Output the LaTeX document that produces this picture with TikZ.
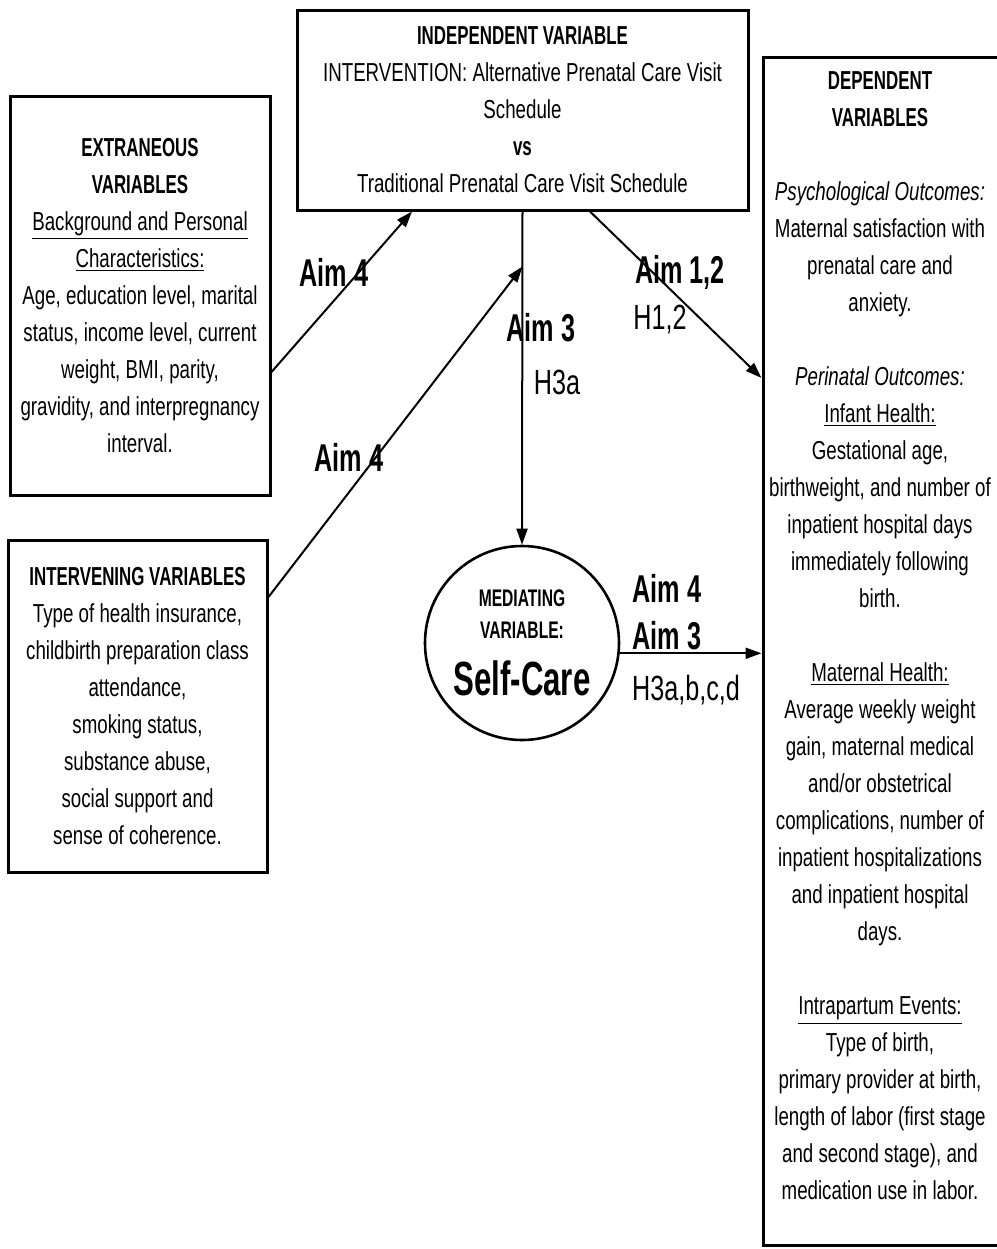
\documentclass[tikz,border=0pt]{standalone}
\usepackage{fontspec}
\setmainfont{Liberation Sans}[FakeStretch=0.72,BoldFeatures={FakeStretch=0.65}]
\usetikzlibrary{arrows.meta,calc}

\begin{document}
\begin{tikzpicture}[x=0.5pt,y=-0.5pt,
 box/.style={
      rectangle,
      draw=black,
      line width=1.5pt,
      align=center,
      inner sep=0pt,
      font=\fontsize{13}{18.5}\selectfont
   },
   txt/.style={
    align = center,
    inner sep = 0pt,
    font = \fontsize{13}{18.5}\selectfont
   },
   aim/.style={inner sep=0pt, font=\bfseries\fontsize{19.4}{22}\selectfont},
   hyp/.style={inner sep=0pt, font=\fontsize{17.5}{21}\selectfont},
   arr/.style={line width=1pt, -{Triangle[length=8pt,width=5.5pt]}}
 ]
 \useasboundingbox (0,0) rectangle (997,1249);

 %independent variable
 \node[box, minimum width=225.5pt, minimum height=100pt] (indep) at (522.5,110)
 {\textbf{INDEPENDENT VARIABLE}\\INTERVENTION: Alternative Prenatal Care Visit\\Schedule\\\textbf{vs}\\Traditional Prenatal Care Visit Schedule};

 %extraneous variables
 \node[box, minimum width=130pt, minimum height=199.5pt] (extr) at (140,295.5)
 {\textbf{EXTRANEOUS}\\\textbf{VARIABLES}\\\underline{Background and Personal}\\\underline{Characteristics:}\\Age, education level, marital\\status, income level, current\\weight, BMI, parity,\\gravidity, and interpregnancy\\interval.};

 %intervening variables
 \node[box, minimum width=129.5pt, minimum height=166pt] (interv) at (137.5,706)
 {\textbf{INTERVENING VARIABLES}\\Type of health insurance,\\childbirth preparation class\\attendance,\\smoking status,\\substance abuse,\\social support and\\sense of coherence.};

 %mediating variable
 \node[circle, draw=black, line width=1.3pt, minimum size=97pt, inner sep=0pt, align=center,
  font=\bfseries\fontsize{12}{16}\selectfont] (med) at (522,643)
 {MEDIATING\\VARIABLE:\\[10pt]{\fontsize{24}{26}\selectfont Self-Care}};

 %dependent variables
 \node[box, minimum width=123.5pt, minimum height=594pt] (depbox) at (886.5,651) {};
 \node[txt] (deptext) at (880,636)
 {\textbf{DEPENDENT}\\\textbf{VARIABLES}\\[18.5pt]
 \textit{Psychological Outcomes:}\\Maternal satisfaction with\\prenatal care and\\anxiety.\\[18.5pt]
 \textit{Perinatal Outcomes:}\\\underline{Infant Health:}\\Gestational age,\\birthweight, and number of\\inpatient hospital days\\immediately following\\birth.\\[18.5pt]
 \underline{Maternal Health:}\\Average weekly weight\\gain, maternal medical\\and/or obstetrical\\complications, number of\\inpatient hospitalizations\\and inpatient hospital\\days.\\[18.5pt]
 \underline{Intrapartum Events:}\\Type of birth,\\primary provider at birth,\\length of labor (first stage\\and second stage), and\\medication use in labor.};

 %arrows
 \draw[arr] ([yshift=-38.25pt]extr.east) -- ([xshift=-55.25pt]indep.south);
 \draw[arr] ([yshift=54.5pt]interv.east) -- ([yshift=-27.5pt]indep.south);
 \draw[arr] (indep.south) -- (med.north);
 \draw[arr] ([xshift=33.75pt]indep.south) -- ([yshift=136.5pt]depbox.west);
 \draw[arr] (med.-6) -- (med.-6 -| depbox.west);

 %aims and hypotheses
 \node[aim] (aimfoura) at (334,272) {Aim 4};
 \node[aim] (aimfourb) at (349,457) {Aim 4};
 \node[aim] (aimthree) at (541,328) {Aim 3};
 \node[hyp] (hthree) at (557,382) {H3a};
 \node[aim] (aimonetwo) at (680,272) {Aim 1,2};
 \node[hyp] (honetwo) at (660,320) {H1,2};
 \node[aim] (aimfourc) at (667,588) {Aim 4};
 \node[aim] (aimthreeb) at (667,636) {Aim 3};
 \node[hyp] (hthreeb) at (686,690) {H3a,b,c,d};
 \end{tikzpicture}
\end{document}
